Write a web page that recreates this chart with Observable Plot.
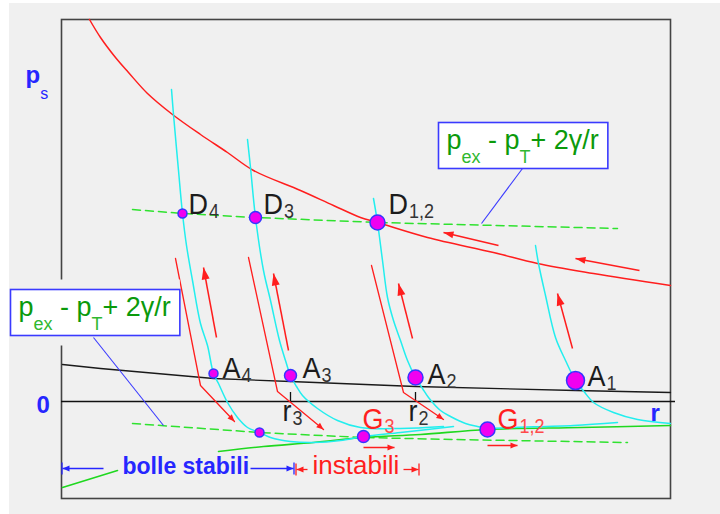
<!DOCTYPE html>
<html>
<head>
<meta charset="utf-8">
<script src="https://cdn.jsdelivr.net/npm/d3@7"></script>
<script src="https://cdn.jsdelivr.net/npm/@observablehq/plot@0.6"></script>
<style>
  html, body { margin: 0; padding: 0; background: #ffffff; }
  #panel { position: absolute; left: 9px; top: 3px; width: 711px; height: 511px; background: #f0f0f0; }
  #chart { position: absolute; left: 0; top: 0; }
</style>
</head>
<body>
<div id="panel"></div>
<div id="chart"></div>
<script>
// Bubble pressure p versus radius r (arbitrary units, p = 0 on the horizontal axis).

// upper curve p_ex − p_T + 2γ/r
const redCurve = [[28,382],[39,364],[54,344],[67,329],[86,308],[111,287],[139,267],[166,249],[192,231],
  [239,211],[272,196],[299,184],[316,179],[366,164],[432,149],[476,138],[532,128],[609,116]];
// dashed reference lines through the D states and the small-bubble end state
const upperDashed = [[71,192],[121,188],[194,184],[316,179],[556,173]];
const lowerDashed = [[71,-22],[198,-31],[302,-36],[392,-38],[566,-41]];
// lower solid curve (null = hidden behind the "bolle stabili" label)
const greenSolid = [[1,-86],[56,-69],null,[157,-50],[202,-45],[252,-41],[302,-36],[359,-33],[426,-28],[519,-26],[609,-24]];
// ambient pressure line
const ambientLine = [[1,37],[39,33],[152,23],[229,20],[354,15],[514,11],[609,9]];

// gas-content curves of the four bubbles
const bubble4 = [[110,312],[112,287],[117,231],[121,188],[125,156],[131,121],[139,78],[146,56],[152,28],[157,18],
  [166,-1],[176,-16],[186,-26],[198,-31],[209,-36],[229,-40],[252,-41],[279,-39],[302,-35],[339,-31],[392,-25]];
const bubble3 = [[186,262],[189,234],[194,184],[202,131],[209,101],[218,61],[224,41],[229,26],[235,15],[241,6],
  [256,-7],[276,-19],[299,-26],[339,-27],[382,-25]];
const bubble2 = [[312,203],[316,179],[321,141],[326,104],[332,81],[339,61],[346,41],[354,24],[361,13],[367,4],
  [379,-9],[389,-15],[404,-22],[416,-25],[427,-27],[449,-26],[512,-24],[556,-21]];
const bubble1 = [[474,156],[477,138],[484,106],[494,64],[504,41],[514,21],[524,8],[532,-1],[552,-11],[576,-18],[609,-22]];

// states: [name, bubble, r, p]
const states = [
  ["A4", 4, 152, 28], ["A3", 3, 229, 26], ["A2", 2, 354, 24], ["A1", 1, 514, 21],
  ["D4", 4, 121, 188], ["D3", 3, 194, 184], ["D1,2", 2, 316, 179],
  ["G4", 4, 198, -31], ["G3", 3, 302, -35], ["G1,2", 2, 426, -28]
];
// state labels: [text, r, p]
const stateLabels = [
  ["D_{4}", 127, 188], ["D_{3}", 202, 188], ["D_{1,2}", 327, 188],
  ["A_{4}", 161, 24], ["A_{3}", 241, 24], ["A_{2}", 366, 18], ["A_{1}", 526, 16],
  ["r_{3}", 221, -19], ["r_{2}", 347, -19]
];
const endLabels = [["G_{3}", 301, -27], ["G_{1,2}", 436, -27]];
const radiusTicks = [229, 354];

// arrows: [r1, p1, r2, p2]
const growArrows = [[155,64,142,134],[227,51,212,128],[351,63,337,118],[511,53,496,108]];
const curveArrows = [[437,156,382,169],[578,131,514,143]];
const driftArrows = [[302,-46,333,-46],[426,-44,456,-44]];
const shrinkPaths = [
  [[114,143],[139,16],[173,-20]],
  [[187,144],[216,10],[262,-28]],
  [[310,136],[342,9],[382,-18]]
];
const leaders = [[461,233,420,178],[32,64,102,-24]];
const formulas = [["p_{ex} - p_{T}+ 2γ/r", 385, 253], ["p_{ex} - p_{T}+ 2γ/r", -43, 86]];
const axisLabels = [["p_{s}", -36, 319], ["0", -25, -11], ["r", 589, -19]];
const axisSpan = [0, 614];

// stability ranges along the bottom
const stableText = [["bolle stabili", 61, -72]];
const unstableText = [["instabili", 251, -72]];
const stableArrows = [[42,-67,1,-67],[189,-67,232,-67]];
const unstableArrows = [[246,-68,235,-68],[342,-68,357,-68]];

const NS = "http://www.w3.org/2000/svg";
const pts = a => a.map(d => d ? {r: d[0], p: d[1]} : {r: NaN, p: NaN});
const seg = {x1: d => d[0], y1: d => d[1], x2: d => d[2], y2: d => d[3]};
const at = {x: d => d[1], y: d => d[2], text: d => d[0]};

const RED = "#ff1e1e", CYAN = "#22eeee", GREEN = "#2fe22f", BLUE = "#2626ff";

function arrowHead(len, wid, bar = 0) {
  return (color) => {
    const m = document.createElementNS(NS, "marker");
    m.setAttribute("viewBox", "-20 -10 24 20");
    m.setAttribute("markerWidth", 24);
    m.setAttribute("markerHeight", 20);
    m.setAttribute("refX", 0);
    m.setAttribute("refY", 0);
    m.setAttribute("markerUnits", "userSpaceOnUse");
    m.setAttribute("orient", "auto");
    m.setAttribute("overflow", "visible");
    const head = document.createElementNS(NS, "path");
    head.setAttribute("d", `M0,0L${-len},${-wid / 2}L${-len},${wid / 2}Z`);
    head.setAttribute("fill", color);
    head.setAttribute("stroke", "none");
    m.appendChild(head);
    if (bar) {
      const b = document.createElementNS(NS, "path");
      b.setAttribute("d", `M0.5,${-bar}V${bar}`);
      b.setAttribute("stroke", color);
      b.setAttribute("stroke-width", 1.3);
      b.setAttribute("fill", "none");
      m.appendChild(b);
    }
    return m;
  };
}
const headLarge = arrowHead(12, 8);
const headMedium = arrowHead(10, 7);
const headSmall = arrowHead(7, 6);
const headBar = arrowHead(7, 6, 6);

const cyanData = [[4, bubble4], [3, bubble3], [2, bubble2], [1, bubble1]]
  .flatMap(([b, a]) => pts(a).map(d => ({...d, bubble: b})));
const pathData = shrinkPaths.flatMap((a, i) => pts(a).map(d => ({...d, id: i})));
const stateData = states.map(([name, bubble, r, p]) => ({name, bubble, r, p}));

const svg = Plot.plot({
  width: 720,
  height: 514,
  marginLeft: 61,
  marginRight: 50,
  marginTop: 19,
  marginBottom: 16,
  x: {domain: [0, 609], axis: null},
  y: {domain: [-97, 382], axis: null},
  r: {type: "linear", domain: [1, 4], range: [9, 4.5]},
  style: {background: "transparent", fontFamily: "'Liberation Sans', Arial, sans-serif"},
  marks: [
    Plot.frame({stroke: "#444", strokeWidth: 1.6}),
    Plot.ruleY([0], {x1: axisSpan[0], x2: axisSpan[1], stroke: "#111", strokeWidth: 1.3}),
    Plot.ruleX(radiusTicks, {y1: 0, y2: 9, stroke: "#111", strokeWidth: 1.3}),
    Plot.line(pts(ambientLine), {x: "r", y: "p", stroke: "#1a1a1a", strokeWidth: 1.3}),
    Plot.line(pts(upperDashed), {x: "r", y: "p", stroke: GREEN, strokeWidth: 1.5, strokeDasharray: "8,5"}),
    Plot.line(pts(lowerDashed), {x: "r", y: "p", stroke: GREEN, strokeWidth: 1.5, strokeDasharray: "8,5"}),
    Plot.line(pts(greenSolid), {x: "r", y: "p", stroke: "#1fd81f", strokeWidth: 1.6, curve: "catmull-rom"}),
    Plot.line(pts(redCurve), {x: "r", y: "p", stroke: RED, strokeWidth: 1.5, curve: "catmull-rom"}),
    Plot.line(cyanData, {x: "r", y: "p", z: "bubble", stroke: CYAN, strokeWidth: 1.5, curve: "catmull-rom"}),
    Plot.line(pathData, {x: "r", y: "p", z: "id", stroke: RED, strokeWidth: 1.3, markerEnd: headSmall}),
    Plot.link(growArrows, {...seg, stroke: RED, strokeWidth: 1.5, markerEnd: headLarge}),
    Plot.link(curveArrows, {...seg, stroke: RED, strokeWidth: 1.5, markerEnd: headMedium}),
    Plot.link(driftArrows, {...seg, stroke: RED, strokeWidth: 1.5, markerEnd: headSmall}),
    Plot.text(formulas, {...at, textAnchor: "start", lineAnchor: "bottom", fontSize: 27, fill: "#0b9a0b", ariaDescription: "formula"}),
    Plot.link(leaders, {...seg, stroke: "#3a3aff", strokeWidth: 1.1}),
    Plot.dot(stateData, {x: "r", y: "p", r: "bubble", fill: "#f000f0", stroke: "#3535ff", strokeWidth: 1.5}),
    Plot.text(stateLabels, {...at, textAnchor: "start", lineAnchor: "bottom", fontSize: 27, fill: "#1c1c1c", ariaDescription: "state-labels"}),
    Plot.text(endLabels, {...at, textAnchor: "start", lineAnchor: "bottom", fontSize: 27, fill: RED, ariaDescription: "end-labels"}),
    Plot.text(axisLabels, {...at, textAnchor: "start", lineAnchor: "bottom", fontSize: 24, fontWeight: "bold", fill: BLUE, ariaDescription: "axis-labels"}),
    Plot.link(stableArrows, {...seg, stroke: BLUE, strokeWidth: 1.3, markerEnd: headBar}),
    Plot.link(unstableArrows, {...seg, stroke: RED, strokeWidth: 1.3, markerEnd: headBar}),
    Plot.text(stableText, {...at, textAnchor: "start", lineAnchor: "bottom", fontSize: 23, fontWeight: "bold", fill: BLUE}),
    Plot.text(unstableText, {...at, textAnchor: "start", lineAnchor: "bottom", fontSize: 26, fill: RED})
  ]
});
document.getElementById("chart").appendChild(svg);

// Turn "_{...}" runs into lowered, smaller tspans.
function subscripts(label, {size, dy, dx = 0, fill, weight, stretch}) {
  svg.querySelectorAll(`g[aria-description="${label}"] text`).forEach(t => {
    const src = t.textContent;
    t.textContent = "";
    let down = false;
    for (const part of src.split(/(_\{[^}]*\})/)) {
      if (!part) continue;
      const s = document.createElementNS(NS, "tspan");
      if (part.startsWith("_{")) {
        s.textContent = part.slice(2, -1);
        s.setAttribute("font-size", size);
        s.setAttribute("dy", dy);
        s.setAttribute("dx", dx);
        if (fill) s.setAttribute("fill", fill);
        if (weight) s.setAttribute("font-weight", weight);
        down = true;
      } else {
        s.textContent = part;
        if (down) s.setAttribute("dy", -dy);
        down = false;
      }
      t.appendChild(s);
    }
    if (stretch) t.setAttribute("transform", `${t.getAttribute("transform") || ""} scale(1,${stretch})`);
  });
}
subscripts("formula", {size: 18, dy: 14, fill: "#2fb82f"});
subscripts("state-labels", {size: 18, dy: 4, dx: 1, fill: "#333", stretch: 1.1});
subscripts("end-labels", {size: 18, dy: 4, dx: 1, fill: "#ff4a4a", stretch: 1.1});
subscripts("axis-labels", {size: 16, dy: 16, weight: "normal"});

// White framed boxes behind the formula labels.
svg.querySelectorAll('g[aria-description="formula"] text').forEach(t => {
  const bb = t.getBBox();
  const ty = +(t.getAttribute("y") || 0);
  const tr = t.getAttribute("transform");
  const mk = (y, h, fill, stroke) => {
    const r = document.createElementNS(NS, "rect");
    r.setAttribute("x", bb.x - 8);
    r.setAttribute("y", ty + y);
    r.setAttribute("width", bb.width + 17);
    r.setAttribute("height", h);
    r.setAttribute("fill", fill);
    r.setAttribute("stroke", stroke);
    r.setAttribute("stroke-width", 1.6);
    if (tr) r.setAttribute("transform", tr);
    t.parentNode.insertBefore(r, t);
  };
  mk(-36, 66, "#f0f0f0", "none");
  mk(-26, 46, "#ffffff", "#3a3aff");
});
</script>
</body>
</html>
